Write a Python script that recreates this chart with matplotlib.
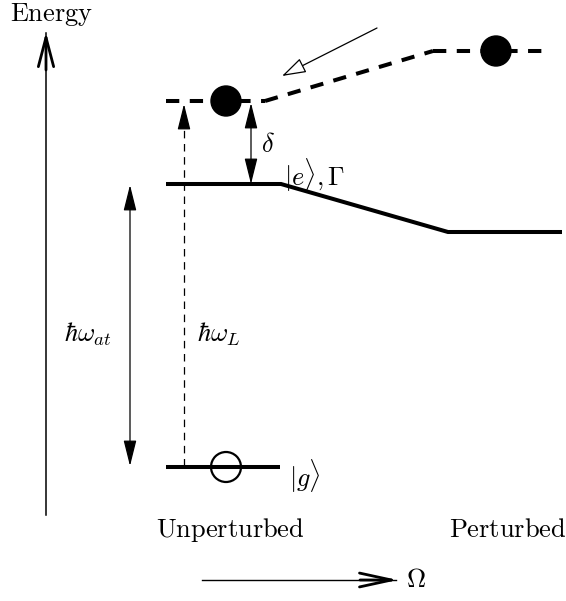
import matplotlib
matplotlib.use("Agg")
import matplotlib.pyplot as plt
from matplotlib.patches import Circle

plt.rcParams['mathtext.fontset'] = 'cm'

# level diagram, in pixel coordinates of the picture (y grows downward)
excited_x = [166, 281, 448, 562]
excited_y = [184, 184, 232, 232]
ground_x = [166, 280]
ground_y = [467, 467]
dressed_left_x = [166, 265]
dressed_left_y = [101, 101]
dressed_slope_x = [265, 433]
dressed_slope_y = [101, 51]
dressed_right_x = [433, 544]
dressed_right_y = [51, 51]

atoms_filled = [(226, 101), (496, 51)]
atom_empty = (226, 467)
atom_r = 15

labels = [
    (r'$\mathrm{Energy}$', 52, 15),
    (r'$\delta$', 268, 145),
    (r'$|e\rangle, \Gamma$', 315, 175),
    (r'$\hbar\omega_{at}$', 88, 334),
    (r'$\hbar\omega_L$', 219, 334),
    (r'$|g\rangle$', 305, 476),
    (r'$\mathrm{Unperturbed}$', 230, 530),
    (r'$\mathrm{Perturbed}$', 508, 530),
    (r'$\Omega$', 416, 580),
]

fig = plt.figure(figsize=(5.66, 6.01), dpi=100)
ax = fig.add_axes([0, 0, 1, 1])
ax.set_xlim(0, 566)
ax.set_ylim(601, 0)
ax.axis('off')

lw_thick = 2.9
ax.plot(excited_x, excited_y, color='black', lw=lw_thick, solid_capstyle='butt', solid_joinstyle='miter')
ax.plot(ground_x, ground_y, color='black', lw=lw_thick, solid_capstyle='butt')
for xs, ys in [(dressed_left_x, dressed_left_y), (dressed_slope_x, dressed_slope_y),
               (dressed_right_x, dressed_right_y)]:
    ax.plot(xs, ys, color='black', lw=lw_thick, linestyle=(0, (3.3, 2.6)), dash_capstyle='butt')

for cx, cy in atoms_filled:
    ax.add_patch(Circle((cx, cy), atom_r, fc='black', ec='black', zorder=5))
ax.add_patch(Circle(atom_empty, atom_r, fc='none', ec='black', lw=1.6, zorder=5))

def arrow(p0, p1, style, **kw):
    props = dict(arrowstyle=style, color='black', lw=0.9, shrinkA=0, shrinkB=0, mutation_scale=1)
    props.update(kw)
    ax.annotate('', xy=p1, xytext=p0, arrowprops=props)

# energy axis and omega axis: thin shaft, heavier open head
ax.plot([46, 46], [515, 33], color='black', lw=1.1)
arrow((46, 70), (46, 32), '->,head_length=21,head_width=5.5', lw=2.0)
ax.plot([202, 396], [580, 580], color='black', lw=1.0)
arrow((360, 580), (398, 580), '->,head_length=23,head_width=5', lw=2.0)

# double arrows
arrow((130, 185), (130, 466), '<|-|>,head_length=16,head_width=4')
arrow((251, 103), (251, 184), '<|-|>,head_length=16,head_width=4')

# laser photon, dashed line with a head
ax.plot([184, 184], [466, 118], color='black', lw=0.9, linestyle=(0, (6, 4.5)))
arrow((184, 125), (184, 104), '-|>,head_length=16,head_width=4')

# open triangle arrow
arrow((377, 28), (282, 76), '-|>,head_length=15,head_width=4.8', fc='white', ec='black', lw=0.9)

for txt, x, y in labels:
    ax.text(x, y, txt, fontsize=19, ha='center', va='center')

fig.savefig('out.png', dpi=100)
